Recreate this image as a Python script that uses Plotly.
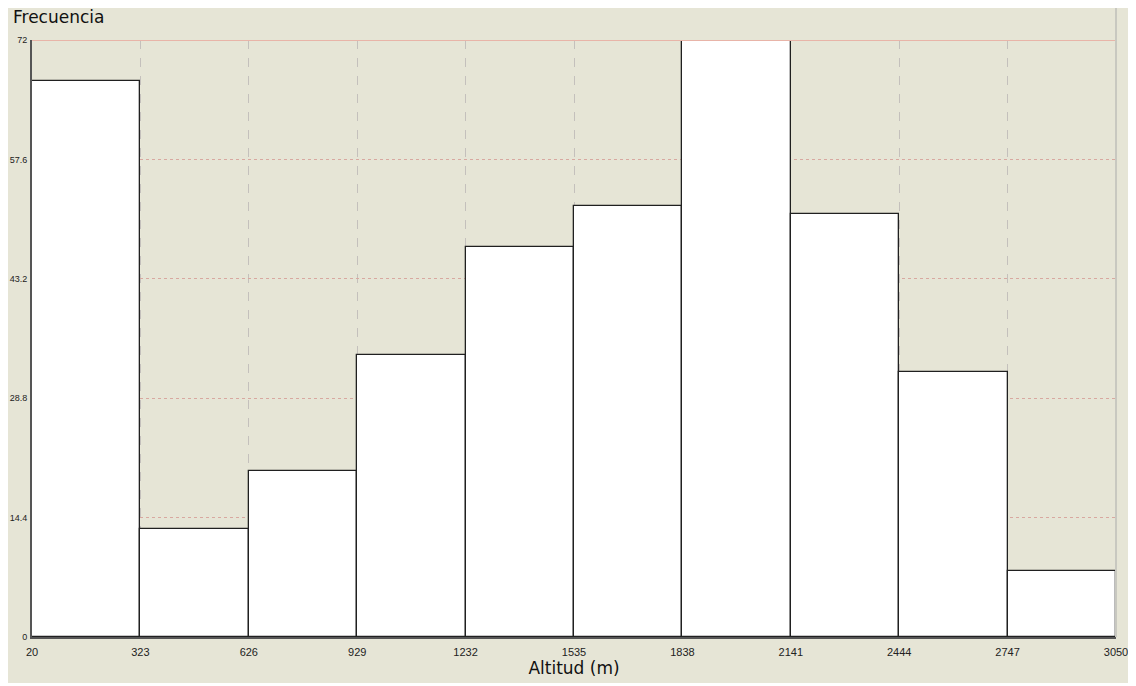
import plotly.graph_objects as go

# Histograma de altitudes
bordes = [20, 323, 626, 929, 1232, 1535, 1838, 2141, 2444, 2747, 3050]
frecuencias = [67, 13, 20, 34, 47, 52, 72, 51, 32, 8]
ticks_y = [0, 14.4, 28.8, 43.2, 57.6, 72]
etiquetas_y = ['0', '14.4', '28.8', '43.2', '57.6', '72']

centros = [(a + b) / 2 for a, b in zip(bordes[:-1], bordes[1:])]
anchos = [b - a for a, b in zip(bordes[:-1], bordes[1:])]

BEIGE = '#E6E5D6'

fig = go.Figure()

fig.add_trace(go.Bar(
    x=centros,
    y=frecuencias,
    width=anchos,
    marker=dict(color='white', line=dict(color='#202020', width=1.3)),
    hovertemplate='%{x}: %{y}<extra></extra>'
))

# el body de la página tiene un margen de 8px
fig.update_layout(
    width=1128, height=678,
    margin=dict(l=24, r=20, t=32, b=49),
    paper_bgcolor='white',
    plot_bgcolor=BEIGE,
    showlegend=False,
    bargap=0,
    font=dict(family='Liberation Sans Narrow, Arial Narrow, sans-serif', size=11, color='#222'),
    xaxis=dict(
        range=[bordes[0], bordes[-1]],
        tickvals=bordes,
        ticktext=[str(b) for b in bordes],
        showgrid=True, gridcolor='#C4C0BC', griddash='dash', gridwidth=1,
        zeroline=False, automargin=False,
        showline=True, linecolor='#555', linewidth=2,
        ticks='outside', ticklen=4, tickcolor='rgba(0,0,0,0)',
        title=dict(text='Altitud (m)', font=dict(family='DejaVu Sans, Verdana, sans-serif', size=17, color='#111'), standoff=0),
    ),
    yaxis=dict(
        range=[0, 72],
        tickvals=ticks_y,
        ticktext=etiquetas_y,
        tickfont=dict(size=9),
        showgrid=True, gridcolor='#D8A8A0', griddash='dot', gridwidth=1,
        zeroline=False, automargin=False,
        showline=True, linecolor='#555', linewidth=2,
        ticks='', ticklen=0, ticklabelstandoff=1,
    ),
    shapes=[
        # fondo beige de la ventana
        dict(type='rect', xref='paper', yref='paper', x0=-0.023, x1=1.0138, y0=-0.077, y1=1.057,
             fillcolor=BEIGE, line=dict(width=0), layer='below'),
        # línea superior en el máximo
        dict(type='line', xref='paper', yref='y', x0=0, x1=1, y0=72, y1=72,
             line=dict(color='#E8B4A8', width=2), layer='above'),
        # borde derecho
        dict(type='line', xref='paper', yref='paper', x0=1, x1=1, y0=0, y1=1.057,
             line=dict(color='#C8C8C0', width=2), layer='above'),
    ],
    annotations=[
        dict(text='Frecuencia', xref='paper', yref='paper', x=-0.019, y=1.0385,
             xanchor='left', yanchor='middle', showarrow=False,
             font=dict(family='DejaVu Sans, Verdana, sans-serif', size=17, color='#111')),
    ],
)

fig.write_html('out.html')
